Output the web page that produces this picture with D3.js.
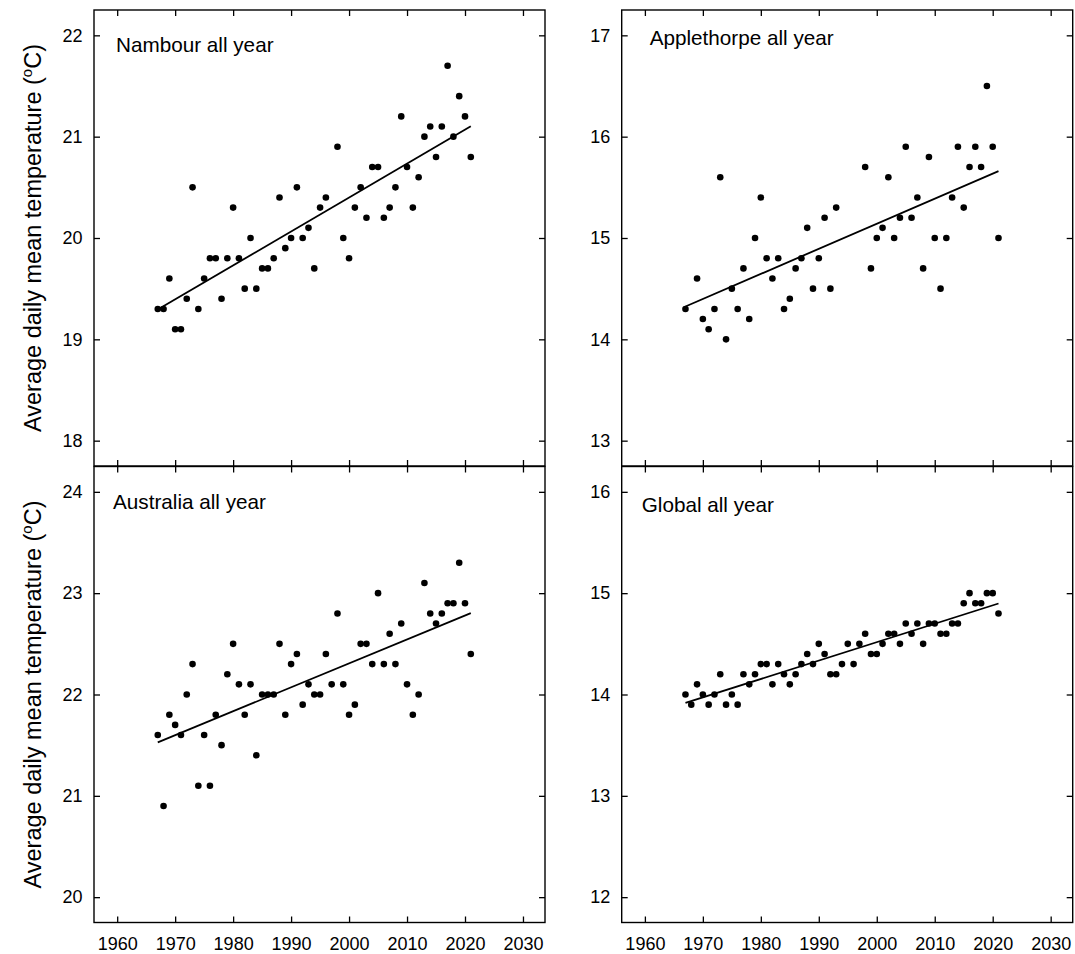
<!DOCTYPE html>
<html><head><meta charset="utf-8">
<script src="https://cdn.jsdelivr.net/npm/d3@7"></script>
<style>
body{margin:0;background:#fff}
svg text{font-family:"Liberation Sans",Arial,sans-serif;fill:#000}
</style>
</head><body>
<svg id="chart" width="1075" height="954"></svg>
<script>
// ---------------- data ----------------
const panelTitles = ["Nambour all year", "Applethorpe all year", "Australia all year", "Global all year"];
const yAxisTitle = "Average daily mean temperature (";
const xTickYears = [1960, 1970, 1980, 1990, 2000, 2010, 2020, 2030];

const nambourYears = [1967,1968,1969,1970,1971,1972,1973,1974,1975,1976,1977,1978,1979,1980,1981,1982,1983,1984,1985,1986,1987,1988,1989,1990,1991,1992,1993,1994,1995,1996,1998,1999,2000,2001,2002,2003,2004,2005,2006,2007,2008,2009,2010,2011,2012,2013,2014,2015,2016,2017,2018,2019,2020,2021];
const nambourTemps = [19.3,19.3,19.6,19.1,19.1,19.4,20.5,19.3,19.6,19.8,19.8,19.4,19.8,20.3,19.8,19.5,20.0,19.5,19.7,19.7,19.8,20.4,19.9,20.0,20.5,20.0,20.1,19.7,20.3,20.4,20.9,20.0,19.8,20.3,20.5,20.2,20.7,20.7,20.2,20.3,20.5,21.2,20.7,20.3,20.6,21.0,21.1,20.8,21.1,21.7,21.0,21.4,21.2,20.8];
const nambourTicks = [18, 19, 20, 21, 22];

const applethorpeYears = [1967,1969,1970,1971,1972,1973,1974,1975,1976,1977,1978,1979,1980,1981,1982,1983,1984,1985,1986,1987,1988,1989,1990,1991,1992,1993,1998,1999,2000,2001,2002,2003,2004,2005,2006,2007,2008,2009,2010,2011,2012,2013,2014,2015,2016,2017,2018,2019,2020,2021];
const applethorpeTemps = [14.3,14.6,14.2,14.1,14.3,15.6,14.0,14.5,14.3,14.7,14.2,15.0,15.4,14.8,14.6,14.8,14.3,14.4,14.7,14.8,15.1,14.5,14.8,15.2,14.5,15.3,15.7,14.7,15.0,15.1,15.6,15.0,15.2,15.9,15.2,15.4,14.7,15.8,15.0,14.5,15.0,15.4,15.9,15.3,15.7,15.9,15.7,16.5,15.9,15.0];
const applethorpeTicks = [13, 14, 15, 16, 17];

const australiaYears = [1967,1968,1969,1970,1971,1972,1973,1974,1975,1976,1977,1978,1979,1980,1981,1982,1983,1984,1985,1986,1987,1988,1989,1990,1991,1992,1993,1994,1995,1996,1997,1998,1999,2000,2001,2002,2003,2004,2005,2006,2007,2008,2009,2010,2011,2012,2013,2014,2015,2016,2017,2018,2019,2020,2021];
const australiaTemps = [21.6,20.9,21.8,21.7,21.6,22.0,22.3,21.1,21.6,21.1,21.8,21.5,22.2,22.5,22.1,21.8,22.1,21.4,22.0,22.0,22.0,22.5,21.8,22.3,22.4,21.9,22.1,22.0,22.0,22.4,22.1,22.8,22.1,21.8,21.9,22.5,22.5,22.3,23.0,22.3,22.6,22.3,22.7,22.1,21.8,22.0,23.1,22.8,22.7,22.8,22.9,22.9,23.3,22.9,22.4];
const australiaTicks = [20, 21, 22, 23, 24];

const globalYears = australiaYears;
const globalTemps = [14.0,13.9,14.1,14.0,13.9,14.0,14.2,13.9,14.0,13.9,14.2,14.1,14.2,14.3,14.3,14.1,14.3,14.2,14.1,14.2,14.3,14.4,14.3,14.5,14.4,14.2,14.2,14.3,14.5,14.3,14.5,14.6,14.4,14.4,14.5,14.6,14.6,14.5,14.7,14.6,14.7,14.5,14.7,14.7,14.6,14.6,14.7,14.7,14.9,15.0,14.9,14.9,15.0,15.0,14.8];
const globalTicks = [12, 13, 14, 15, 16];

// ---------------- layout ----------------
const layout = [
  {x0: 94,    y0: 10,    labelDx: 22, labelBase: 42},
  {x0: 621.7, y0: 10,    labelDx: 28, labelBase: 35},
  {x0: 94,    y0: 466.5, labelDx: 19, labelBase: 42},
  {x0: 621.7, y0: 466.5, labelDx: 20, labelBase: 45}
];
const PW = 451, PH = 456, TICK = 6;

const panels = [
  {years: nambourYears, temps: nambourTemps, ticks: nambourTicks},
  {years: applethorpeYears, temps: applethorpeTemps, ticks: applethorpeTicks},
  {years: australiaYears, temps: australiaTemps, ticks: australiaTicks},
  {years: globalYears, temps: globalTemps, ticks: globalTicks}
];

const svg = d3.select("#chart");

function fit(xs, ys) {
  const mx = d3.mean(xs), my = d3.mean(ys);
  let sxy = 0, sxx = 0;
  xs.forEach((x, i) => { sxy += (x - mx) * (ys[i] - my); sxx += (x - mx) * (x - mx); });
  const b = sxy / sxx;
  return {b, a: my - b * mx};
}

panels.forEach((p, i) => {
  const L = layout[i];
  const t0 = p.ticks[0], t1 = p.ticks[p.ticks.length - 1];
  const x = d3.scaleLinear().domain([1956, 2033.8]).range([L.x0, L.x0 + PW]);
  const y = d3.scaleLinear().domain([t0 - 0.25, t1 + 0.25]).range([L.y0 + PH, L.y0]);
  const g = svg.append("g");
  const showX = i >= 2;

  const style = sel => {
    sel.select(".domain").remove();
    sel.selectAll(".tick line").attr("stroke", "#000").attr("stroke-width", 1.3);
    sel.selectAll(".tick text").attr("font-size", 18).attr("font-family", '"Liberation Sans",Arial,sans-serif').attr("fill", "#000");
  };

  g.append("g").attr("transform", `translate(${L.x0},0)`)
    .call(d3.axisLeft(y).tickValues(p.ticks).tickFormat(d3.format("d")).tickSize(-TICK).tickPadding(11.5))
    .call(style);
  g.append("g").attr("transform", `translate(${L.x0 + PW},0)`)
    .call(d3.axisRight(y).tickValues(p.ticks).tickFormat("").tickSize(-TICK))
    .call(style);
  g.append("g").attr("transform", `translate(0,${L.y0})`)
    .call(d3.axisTop(x).tickValues(xTickYears).tickFormat("").tickSize(-TICK))
    .call(style);
  g.append("g").attr("transform", `translate(0,${L.y0 + PH})`)
    .call(d3.axisBottom(x).tickValues(xTickYears).tickFormat(showX ? d3.format("d") : "").tickSize(-TICK).tickPadding(15))
    .call(style);

  g.append("rect").attr("x", L.x0).attr("y", L.y0).attr("width", PW).attr("height", PH)
    .attr("fill", "none").attr("stroke", "#000").attr("stroke-width", 1.4);

  const f = fit(p.years, p.temps);
  const yA = d3.min(p.years), yB = d3.max(p.years);
  g.append("line")
    .attr("x1", x(yA)).attr("y1", y(f.a + f.b * yA))
    .attr("x2", x(yB)).attr("y2", y(f.a + f.b * yB))
    .attr("stroke", "#000").attr("stroke-width", 1.8);

  g.selectAll("circle.pt").data(p.years.map((yr, k) => [yr, p.temps[k]]))
    .join("circle").attr("class", "pt")
    .attr("cx", d => x(d[0])).attr("cy", d => y(d[1])).attr("r", 3.3).attr("fill", "#000");

  g.append("text").attr("x", L.x0 + L.labelDx).attr("y", L.y0 + L.labelBase)
    .attr("font-size", 20.7).text(panelTitles[i]);

  if (i % 2 === 0) {
    const cy = L.y0 + PH / 2;
    const tt = svg.append("text").attr("transform", `translate(41,${cy}) rotate(-90)`)
      .attr("text-anchor", "middle").attr("font-size", 23.5);
    tt.append("tspan").text(yAxisTitle);
    tt.append("tspan").attr("font-size", 15).attr("dy", -9).text("o");
    tt.append("tspan").attr("dy", 9).text("C)");
  }
});
</script>
</body></html>
